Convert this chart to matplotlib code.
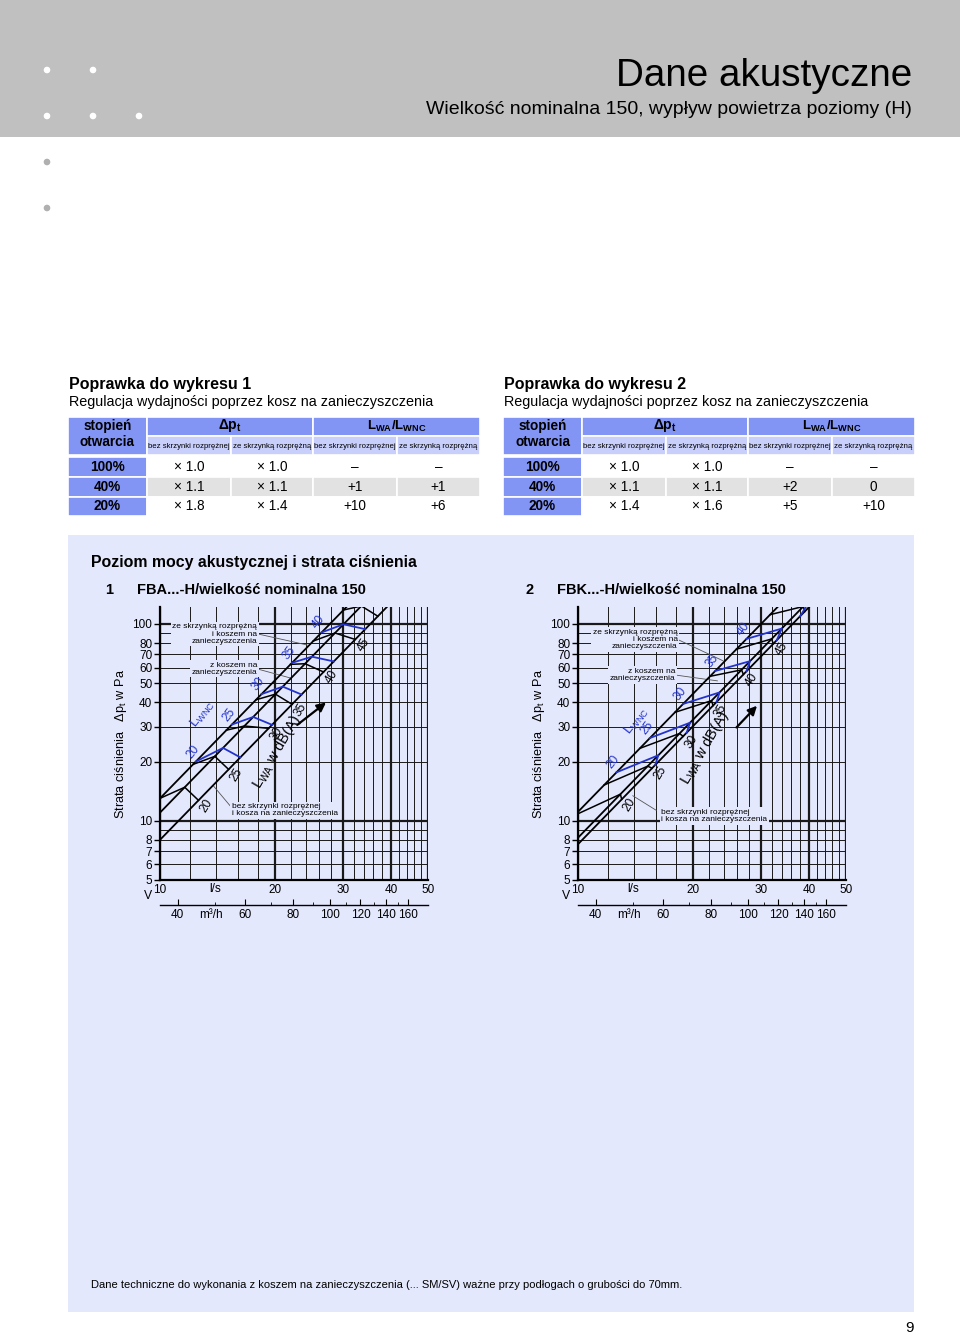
import matplotlib
matplotlib.use("Agg")
import matplotlib.pyplot as plt
from matplotlib import font_manager
from matplotlib.patches import Rectangle, Circle
from matplotlib.ticker import NullLocator

W, H = 960, 1335

# correction tables (Poprawka do wykresu 1 / 2)
open_levels = ["100%", "40%", "20%"]
sub_heads = ["bez skrzynki rozprężnej", "ze skrzynką rozprężną",
             "bez skrzynki rozprężnej", "ze skrzynką rozprężną"]
t1_dp_bez = ["× 1.0", "× 1.1", "× 1.8"]
t1_dp_ze = ["× 1.0", "× 1.1", "× 1.4"]
t1_l_bez = ["–", "+1", "+10"]
t1_l_ze = ["–", "+1", "+6"]
t2_dp_bez = ["× 1.0", "× 1.1", "× 1.4"]
t2_dp_ze = ["× 1.0", "× 1.1", "× 1.6"]
t2_l_bez = ["–", "+2", "+5"]
t2_l_ze = ["–", "0", "+10"]

# chart axes
ls_ticks = [10, 20, 30, 40, 50]
m3h_ticks = [40, 60, 80, 100, 120, 140, 160]
m3h_minor = [50, 70, 90, 110, 130, 150]
pa_ticks = [5, 6, 7, 8, 10, 20, 30, 40, 50, 60, 70, 80, 100]
v_grid = [10, 12, 14, 16, 18, 20, 22, 24, 26, 28, 30, 32, 34, 36, 38, 40, 42, 44, 46, 48, 50]
p_grid = [5, 6, 7, 8, 9, 10, 20, 30, 40, 50, 60, 70, 80, 90, 100]

# chart 1 FBA: pressure loss at 10 l/s of the three curves
# (ze skrzynka + kosz, z koszem, bez skrzynki i kosza)
fba_dp10 = [13.0, 11.0, 8.0]
fba_lwa = ["20", "25", "30", "35", "40", "45", ""]
fba_lwa_va = [10.0, 12.2, 14.9, 17.8, 21.9, 25.1, 30.1]
fba_lwa_vb = [11.6, 13.9, 16.6, 20.0, 23.9, 28.6, 33.5]
fba_lwa_vc = [12.6, 15.1, 19.2, 22.1, 26.7, 32.3, 37.0]
fba_lwnc = ["20", "25", "30", "35", "40"]
fba_lwnc_va = [12.4, 15.4, 18.4, 22.1, 26.4]
fba_lwnc_vb = [14.6, 17.5, 20.9, 24.9, 30.1]
fba_lwnc_vc = [16.2, 19.6, 23.4, 28.4, 34.3]

# chart 2 FBK
fbk_dp10 = [11.1, 8.2, 7.6]
fbk_lwa = ["20", "25", "30", "35", "40", "45", ""]
fbk_lwa_va = [9.8, 11.7, 14.5, 17.9, 22.1, 25.9, 31.7]
fbk_lwa_vb = [12.9, 15.2, 18.4, 22.3, 26.7, 32.0, 38.7]
fbk_lwa_vc = [13.0, 15.6, 18.8, 22.5, 27.0, 32.3, 39.0]
fbk_lwnc = ["20", "25", "30", "35", "40", ""]
fbk_lwnc_va = [12.6, 15.4, 18.8, 22.8, 27.5, 33.5]
fbk_lwnc_vb = [16.2, 19.6, 23.4, 28.1, 34.0, 40.5]
fbk_lwnc_vc = [15.9, 19.2, 23.0, 27.5, 33.0, 38.0]

GREY = "#c0c0c0"
PANEL = "#e4e8fc"
HEAD = "#8294f4"
SUB = "#c8cffb"
ROWGREY = "#e2e2e2"
BLUE = "#2233cc"

plt.rcParams["font.family"] = ["Liberation Sans", "DejaVu Sans"]
plt.rcParams["mathtext.fontset"] = "custom"
plt.rcParams["mathtext.rm"] = "Liberation Sans"
plt.rcParams["mathtext.it"] = "Liberation Sans:italic"
plt.rcParams["mathtext.bf"] = "Liberation Sans:bold"

names = {f.name for f in font_manager.fontManager.ttflist}
if "Liberation Sans Narrow" in names:
    sub_font = dict(family=["Liberation Sans Narrow", "DejaVu Sans"], fontsize=6.6)
else:
    sub_font = dict(fontsize=5.6)

fig = plt.figure(figsize=(W / 100, H / 100), dpi=100)
bg = fig.add_axes([0, 0, 1, 1], zorder=0)
bg.set_xlim(0, W)
bg.set_ylim(H, 0)
bg.axis("off")


def cell(x, y, w, h, color):
    bg.add_patch(Rectangle((x, y), w, h, facecolor=color, edgecolor="white", lw=1.2))


# page header
bg.add_patch(Rectangle((0, 0), W, 137, facecolor=GREY, edgecolor="none"))
for cx, cy in [(47, 70), (93, 70), (47, 116), (93, 116), (139, 116)]:
    bg.add_patch(Circle((cx, cy), 2.6, color="white"))
for cx, cy in [(47, 162), (47, 208)]:
    bg.add_patch(Circle((cx, cy), 2.6, color="#b0b0b0"))
bg.text(912, 76, "Dane akustyczne", fontsize=27.8, ha="right", va="center")
bg.text(912, 110, "Wielkość nominalna 150, wypływ powietrza poziomy (H)",
        fontsize=14, ha="right", va="center")


def draw_table(x0, no, dp_bez, dp_ze, l_bez, l_ze):
    cols = [x0, x0 + 79, x0 + 163, x0 + 245, x0 + 329, x0 + 412]
    bg.text(x0 + 1, 385, f"Poprawka do wykresu {no}", fontsize=11.5,
            fontweight="bold", va="center")
    bg.text(x0 + 1, 402, "Regulacja wydajności poprzez kosz na zanieczyszczenia",
            fontsize=10.4, va="center")
    cell(cols[0], 417, cols[1] - cols[0], 38, HEAD)
    cell(cols[1], 417, cols[3] - cols[1], 19, HEAD)
    cell(cols[3], 417, cols[5] - cols[3], 19, HEAD)
    for i in range(4):
        cell(cols[i + 1], 436, cols[i + 2] - cols[i + 1], 19, SUB)
        bg.text((cols[i + 1] + cols[i + 2]) / 2, 446.5, sub_heads[i],
                ha="center", va="center", **sub_font)
    bg.text((cols[0] + cols[1]) / 2, 434, "stopień\notwarcia", fontsize=9.8,
            fontweight="bold", ha="center", va="center", linespacing=1.15)
    bg.text((cols[1] + cols[3]) / 2, 426, r"Δp$_{\mathbf{t}}$", fontsize=10,
            fontweight="bold", ha="center", va="center")
    bg.text((cols[3] + cols[5]) / 2, 426, r"L$_{\mathbf{WA}}$/L$_{\mathbf{WNC}}$",
            fontsize=9.5, fontweight="bold", ha="center", va="center")
    row_y = [457, 477, 497]
    row_h = [20, 20, 19]
    for r in range(3):
        fill = ROWGREY if r == 1 else "white"
        cell(cols[0], row_y[r], cols[1] - cols[0], row_h[r], HEAD)
        bg.text((cols[0] + cols[1]) / 2, row_y[r] + row_h[r] / 2, open_levels[r],
                fontsize=9.8, fontweight="bold", ha="center", va="center")
        vals = [dp_bez[r], dp_ze[r], l_bez[r], l_ze[r]]
        for c in range(4):
            cell(cols[c + 1], row_y[r], cols[c + 2] - cols[c + 1], row_h[r], fill)
            bg.text((cols[c + 1] + cols[c + 2]) / 2, row_y[r] + row_h[r] / 2, vals[c],
                    fontsize=9.8, ha="center", va="center")


draw_table(68, 1, t1_dp_bez, t1_dp_ze, t1_l_bez, t1_l_ze)
draw_table(503, 2, t2_dp_bez, t2_dp_ze, t2_l_bez, t2_l_ze)

# blue panel
bg.add_patch(Rectangle((68, 535), 846, 777, facecolor=PANEL, edgecolor="none"))
bg.text(91, 563, "Poziom mocy akustycznej i strata ciśnienia", fontsize=11.4,
        fontweight="bold", va="center")
bg.text(105, 590, "1", fontsize=10.5, fontweight="bold", va="center")
bg.text(137, 590, "FBA...-H/wielkość nominalna 150", fontsize=10.5, fontweight="bold",
        va="center")
bg.text(525, 590, "2", fontsize=10.5, fontweight="bold", va="center")
bg.text(557, 590, "FBK...-H/wielkość nominalna 150", fontsize=10.5, fontweight="bold",
        va="center")
bg.text(91, 1285, "Dane techniczne do wykonania z koszem na zanieczyszczenia (... SM/SV) "
        "ważne przy podłogach o grubości do 70mm.", fontsize=8.05, va="center")
bg.text(910, 1328, "9", fontsize=11, ha="center", va="center")


def loss(v, dp10):
    return dp10 * (v / 10.0) ** 2


def px_axes(x0, y0, x1, y1, z=2):
    return fig.add_axes([x0 / W, 1 - y1 / H, (x1 - x0) / W, (y1 - y0) / H], zorder=z)


def draw_chart(x0, dp10, lwa, va, vb, vc, lwnc, wa, wb, wc, lay):
    ax = px_axes(x0, 607, x0 + 268, 880)
    ax.set_facecolor("none")
    ax.set_xscale("log")
    ax.set_yscale("log")
    ax.set_xlim(10, 50)
    ax.set_ylim(5, 122)
    for v in v_grid:
        ax.axvline(v, color="#1a1a1a", lw=1.6 if v % 10 == 0 else 0.7, zorder=1)
    for p in p_grid:
        ax.axhline(p, color="#1a1a1a", lw=1.6 if p in (10, 100) else 0.7, zorder=1)
    for s in ["top", "right"]:
        ax.spines[s].set_visible(False)
    for s in ["left", "bottom"]:
        ax.spines[s].set_linewidth(1.6)
    ax.xaxis.set_minor_locator(NullLocator())
    ax.yaxis.set_minor_locator(NullLocator())
    ax.set_xticks(ls_ticks)
    ax.set_xticklabels([str(v) for v in ls_ticks])
    ax.set_yticks(pa_ticks)
    ax.set_yticklabels([str(v) for v in pa_ticks])
    ax.tick_params(axis="x", length=0, pad=3, labelsize=8.5)
    ax.tick_params(axis="y", length=4, width=1, pad=1.5, labelsize=8.5)

    # pressure loss curves
    vv = [8, 70]
    for k in dp10:
        ax.plot(vv, [loss(v, k) for v in vv], color="black", lw=1.3, zorder=4)

    # sound power segments
    for i in range(len(va)):
        xs = [va[i], vb[i], vc[i]]
        ys = [loss(va[i], dp10[0]), loss(vb[i], dp10[1]), loss(vc[i], dp10[2])]
        ax.plot(xs, ys, color="black", lw=1.1, zorder=5)
        if lwa[i]:
            ax.annotate(lwa[i], (xs[2], ys[2]), xytext=(8, -5), textcoords="offset pixels",
                        rotation=58, ha="center", va="center", fontsize=8.6, zorder=6)
    for i in range(len(wa)):
        xs = [wa[i], wb[i], wc[i]]
        ys = [loss(wa[i], dp10[0]), loss(wb[i], dp10[1]), loss(wc[i], dp10[2])]
        ax.plot(xs, ys, color=BLUE, lw=1.3, zorder=6)
        if lwnc[i]:
            ax.annotate(lwnc[i], (xs[0], ys[0]), xytext=(-3, 10), textcoords="offset pixels",
                        rotation=52, ha="center", va="center", fontsize=8.6, color=BLUE,
                        zorder=6)

    ax.text(*lay["lwnc"], r"L$_{\mathrm{WNC}}$", color=BLUE, rotation=52, fontsize=9.5,
            ha="center", va="center", zorder=6)
    ax.text(*lay["lwa"], r"L$_{\mathrm{WA}}$ w dB(A)", rotation=60, fontsize=10.5,
            ha="center", va="center", zorder=6)
    ax.annotate("", xy=lay["arrow"][1], xytext=lay["arrow"][0],
                arrowprops=dict(arrowstyle="-|>", color="black", lw=1.6,
                                mutation_scale=13, shrinkA=0, shrinkB=0), zorder=6)

    box = dict(facecolor=PANEL, edgecolor="none", pad=1.2)
    for txt, pos, ha, lead in lay["notes"]:
        ax.plot([lead[0][0], lead[1][0]], [lead[0][1], lead[1][1]], color="#555555",
                lw=0.6, zorder=3)
        ax.text(*pos, txt, fontsize=6, ha=ha, va="center", multialignment=ha,
                linespacing=1.05, bbox=box, zorder=3.5)

    # volume flow labels
    ax.text(-0.045, -0.06, "V", transform=ax.transAxes, fontsize=8.8, ha="center", va="center")
    ax.text(0.205, -0.032, "l/s", transform=ax.transAxes, fontsize=8.5, ha="center", va="center")
    ax.text(-0.145, 0.5, r"Strata ciśnienia   Δp$_{\mathrm{t}}$ w Pa", transform=ax.transAxes,
            rotation=90, fontsize=9.2, ha="center", va="center")

    ax2 = px_axes(x0, 895, x0 + 268, 905)
    ax2.set_facecolor("none")
    ax2.set_xscale("log")
    ax2.set_xlim(36, 180)
    ax2.set_yticks([])
    for s in ["top", "right", "left"]:
        ax2.spines[s].set_visible(False)
    ax2.spines["bottom"].set_linewidth(1.0)
    ax2.set_xticks(m3h_ticks)
    ax2.set_xticklabels([str(v) for v in m3h_ticks])
    ax2.set_xticks(m3h_minor, minor=True)
    ax2.xaxis.set_minor_formatter(plt.NullFormatter())
    ax2.tick_params(axis="x", which="major", direction="in", length=4, pad=3, labelsize=8.5)
    ax2.tick_params(axis="x", which="minor", direction="in", length=2.5)
    ax2.text(0.19, -1.0, "m³/h", transform=ax2.transAxes, fontsize=8.5, ha="center",
             va="center")
    return ax


layout1 = dict(
    lwnc=(12.9, 35.0), lwa=(20.2, 22.5), arrow=((22.8, 30.7), (27.1, 39.9)),
    notes=[("ze skrzynką rozprężną\ni koszem na\nzanieczyszczenia", (17.9, 88.9), "right",
            ((18.0, 89.0), (24.2, 78.2))),
           ("z koszem na\nzanieczyszczenia", (17.9, 59.3), "right",
            ((18.0, 59.0), (21.85, 53.2))),
           ("bez skrzynki rozprężnej\ni kosza na zanieczyszczenia", (15.4, 11.3), "left",
            ((13.8, 15.0), (15.3, 11.8)))])
layout2 = dict(
    lwnc=(14.2, 32.2), lwa=(21.4, 23.6), arrow=((25.9, 29.8), (29.3, 38.4)),
    notes=[("ze skrzynką rozprężną\ni koszem na\nzanieczyszczenia", (18.2, 83.2), "right",
            ((18.3, 83.0), (23.9, 65.0))),
           ("z koszem na\nzanieczyszczenia", (17.9, 55.1), "right",
            ((18.0, 55.0), (23.1, 51.4))),
           ("bez skrzynki rozprężnej\ni kosza na zanieczyszczenia", (16.5, 10.6), "left",
            ((13.9, 13.4), (16.0, 11.3)))])

draw_chart(160, fba_dp10, fba_lwa, fba_lwa_va, fba_lwa_vb, fba_lwa_vc,
           fba_lwnc, fba_lwnc_va, fba_lwnc_vb, fba_lwnc_vc, layout1)
draw_chart(578, fbk_dp10, fbk_lwa, fbk_lwa_va, fbk_lwa_vb, fbk_lwa_vc,
           fbk_lwnc, fbk_lwnc_va, fbk_lwnc_vb, fbk_lwnc_vc, layout2)

fig.savefig("out.png", dpi=100)
